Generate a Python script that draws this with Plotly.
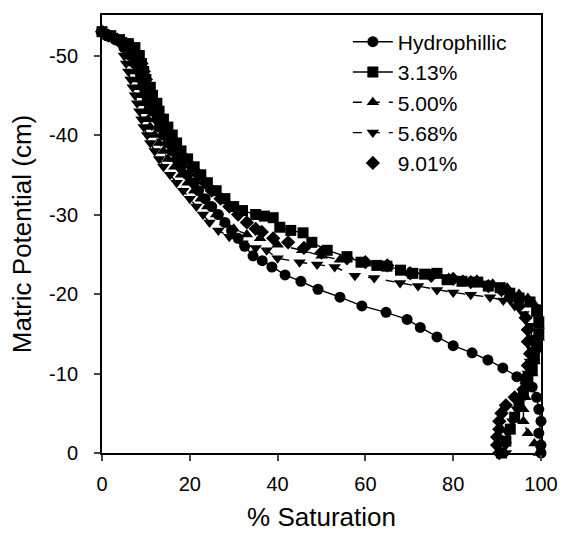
import plotly.graph_objects as go

# Hydrophillic (circles, solid)
hyd_x = [0, 1, 3, 5, 6.5, 7.5, 8.5, 9, 9.5, 10, 11, 11.5, 12.5, 13, 14, 15, 16, 17, 18, 19.5,
         21, 22, 23.5, 25, 26.5, 28, 29.5, 31, 32.5, 34.4, 36.5, 38.7, 41.7, 45.3, 49.2, 54.2,
         59.2, 64.7, 69.5, 72.5, 76.3, 80, 84.3, 87.9, 91.3, 94.5, 96.5, 98, 99, 99.5, 100, 99.5, 100, 100]
hyd_y = [-53, -52.5, -52, -51, -50, -49, -48, -47, -46, -45, -44, -43, -42, -41, -40, -39, -38, -37, -36, -35,
         -34, -33, -32, -31, -30, -29, -28, -27, -26, -24.8, -24.2, -23.4, -22.4, -21.6, -20.6, -19.6,
         -18.5, -17.7, -16.8, -15.8, -14.6, -13.5, -12.6, -11.7, -10.7, -9.6, -9, -8.3, -7, -5.5, -4, -2.5, -1, 0]

# 3.13% (squares, solid)
s313_x = [0, 2, 4, 6, 7.5, 8.5, 9, 9.5, 10, 11, 11.5, 12.5, 13, 14, 15, 16, 17, 18, 19.5, 21, 22.5, 24,
          26, 28, 30, 32, 35, 37, 39, 40.5, 43, 45.8, 47.8, 51.3, 55.8, 59, 62.6, 64.9, 68, 70.8, 73.5,
          76.3, 78.6, 82, 85.6, 88, 90.7, 92.9, 95, 97.5, 99, 99.5, 99.5, 99, 98.5, 98, 97, 96, 95, 94,
          93, 92, 91]
s313_y = [-53, -52.5, -52, -51.5, -51, -50, -49, -48, -47, -46, -45, -44, -43, -42, -41, -40, -39, -38, -37, -36, -35, -34,
          -33, -32, -31, -30.5, -30, -29.8, -29.6, -28.4, -28, -27.7, -26.5, -25.5, -24.7, -24, -23.6, -23.5, -23, -22.6, -22.5,
          -22.6, -21.8, -21.6, -21.5, -21, -20.8, -20.1, -19.5, -19, -18, -16.5, -15, -13.5, -12, -10.5, -9, -7.5, -6, -4.5,
          -3, -1.5, 0]

# 5.00% (triangles up, dashed)
s500_x = [0, 2, 4, 5.5, 6.5, 7, 7.5, 8, 8.5, 9, 9.5, 10, 10.5, 11, 12, 13, 14, 15, 16.5, 18, 19.5, 21,
          22.5, 24, 26, 28, 30, 33, 36, 40, 45.6, 50, 54.2, 60, 65, 70, 75, 79, 82.2, 85.4, 89, 92.3,
          95, 97, 98.2, 99, 99.5, 99.5, 99, 98.5, 98, 97.5, 96.5, 96, 96, 97, 98.5, 99.5]
s500_y = [-53, -52.5, -52, -51, -50, -49, -48, -47, -46, -45, -44, -43, -42, -41, -40, -39, -38, -37, -36, -35, -34, -33,
          -32, -31, -30, -29, -28.2, -27.5, -27, -26.2, -25.5, -24.8, -24.3, -23.8, -23.4, -22.8, -22.4, -22, -21.8, -21.8, -21.3, -20.8,
          -20, -19.5, -18.9, -17.5, -16, -14.5, -13, -11.5, -10, -8.5, -7, -5.5, -4, -2.5, -1.2, 0]

# 5.68% (triangles down, dashed)
s568_x = [0, 2, 4, 5, 5.5, 6, 6.5, 7, 7.5, 8, 8.5, 9, 9.5, 10.3, 11, 12, 13, 14, 15.5, 17, 18.5, 20,
          21.5, 23, 24.5, 26.5, 29, 32, 35, 37.5, 40, 45, 49, 53, 57.6, 62, 67.9, 72, 76.3, 80, 84, 88.4,
          91.4, 94, 96, 97.5, 98, 98, 97.5, 97, 96.5, 95.5, 94.5, 93.5, 92.5, 92, 92]
s568_y = [-53, -52.5, -51.5, -50, -49, -48, -47, -46, -45, -44, -43, -42, -41, -40, -39, -38, -37, -36, -35, -34, -33, -32,
          -31, -30, -29, -28, -27.2, -26.4, -25.8, -25.5, -24.5, -24, -23.7, -23.4, -22.3, -22, -21.4, -21, -20.5, -20.2, -19.9, -19.6,
          -19.2, -18.5, -17.5, -16, -14.5, -13, -11.5, -10, -8.5, -7, -5.5, -4, -2.5, -1, 0]

# 9.01% (diamonds, markers only)
s901_x = [0, 1.5, 3.5, 5.5, 7, 8, 9, 9.5, 10, 10.5, 11, 12, 12.5, 13.5, 14.5, 15.5, 16.5, 17.5, 19, 20.5,
          22, 23.5, 25, 27, 29, 31, 33, 35, 36.4, 39, 42.4, 46, 50, 55.8, 60, 65, 70.2, 75, 80, 84, 88,
          91, 93, 95, 96.5, 97, 97, 97.5, 97, 96.5, 96, 94, 92, 91, 90.5, 90.5, 90, 90, 90.5]
s901_y = [-53, -52.5, -52, -51.5, -51, -50, -49, -48, -47, -46, -45, -44, -43, -42, -41, -40, -39, -38, -37, -36,
          -35, -34, -33, -32, -31, -30, -29, -28.2, -27.8, -27, -26.5, -25.8, -25.2, -24.5, -24, -23.6, -22.6, -22.3, -21.9, -21.5, -21,
          -20.5, -19.5, -18.5, -17, -15.5, -14, -12.5, -11, -9.5, -8, -7, -6, -5, -4, -3, -2, -1, 0]

x_ticks = [0, 20, 40, 60, 80, 100]
y_ticks = [0, -10, -20, -30, -40, -50]

FONT = "Arial, Liberation Sans, sans-serif"

series = [
    ("Hydrophillic", hyd_x, hyd_y, "circle", "solid", "lines+markers"),
    ("3.13%", s313_x, s313_y, "square", "solid", "lines+markers"),
    ("5.00%", s500_x, s500_y, "triangle-up", "dash", "lines+markers"),
    ("5.68%", s568_x, s568_y, "triangle-down", "dash", "lines+markers"),
    ("9.01%", s901_x, s901_y, "diamond", "solid", "markers"),
]

fig = go.Figure()
for name, xs, ys, sym, dash, mode in series:
    fig.add_trace(go.Scatter(
        x=xs, y=ys, name=name, mode=mode,
        marker=dict(symbol=sym, size=11, color="black"),
        line=dict(color="black", width=1.4, dash=dash),
        cliponaxis=False,
    ))

fig.update_layout(
    width=562, height=534,
    margin=dict(l=102, r=21, t=15, b=81),
    paper_bgcolor="white", plot_bgcolor="white",
    font=dict(family=FONT, size=20, color="black"),
    showlegend=True,
    legend=dict(x=0.56, y=0.985, xanchor="left", yanchor="top",
                bgcolor="rgba(0,0,0,0)", font=dict(size=21, family=FONT),
                itemwidth=40, tracegroupgap=0),
    xaxis=dict(range=[0, 100], tickvals=x_ticks, ticks="outside", ticklen=6, tickwidth=2,
               showline=True, linecolor="black", linewidth=2, mirror=True, showgrid=False,
               zeroline=False, ticklabelstandoff=6, tickfont=dict(size=20), automargin=False,
               title=dict(text="% Saturation", font=dict(size=26), standoff=14)),
    yaxis=dict(range=[0, -55.1], tickvals=y_ticks, ticktext=[str(v) for v in y_ticks],
               ticks="outside", ticklen=6, tickwidth=2, automargin=False,
               showline=True, linecolor="black", linewidth=2, mirror=True, showgrid=False,
               zeroline=False, ticklabelstandoff=12, tickfont=dict(size=20),
               title=dict(text="Matric Potential (cm)", font=dict(size=26), standoff=10)),
)

fig.write_html("out.html")
